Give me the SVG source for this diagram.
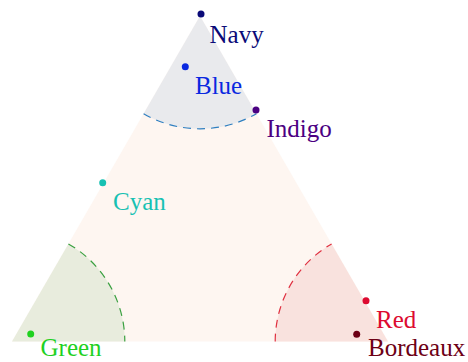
<svg xmlns="http://www.w3.org/2000/svg" width="468" height="362" viewBox="0 0 468 362">
<style>
text{font-family:"Liberation Serif","Times New Roman",serif;font-size:25px}
.arc{fill:none;stroke-width:1.2;stroke-dasharray:8 6}
</style>
<rect width="468" height="362" fill="#ffffff"/>
<g id="regions">
<path d="M200,16 L12,341.6 L388,341.6 Z" fill="#fef6f1"/>
<path d="M200,16 L143.6,113.7 A112.8,112.8 0 0 0 256.4,113.7 Z" fill="#e9eaed"/>
<path d="M12,341.6 L68.4,243.9 A112.8,112.8 0 0 1 124.8,341.6 Z" fill="#e8ecdd"/>
<path d="M388,341.6 L275.2,341.6 A112.8,112.8 0 0 1 331.6,243.9 Z" fill="#f9e2de"/>
</g>
<g id="connectors">
<path class="arc" d="M143.6,113.7 A112.8,112.8 0 0 0 256.4,113.7" stroke="#2f7fc0"/>
<path class="arc" d="M68.4,243.9 A112.8,112.8 0 0 1 124.8,341.6" stroke="#3aa040"/>
<path class="arc" d="M275.2,341.6 A112.8,112.8 0 0 1 331.6,243.9" stroke="#e03040"/>
</g>
<g id="navy"><circle cx="201" cy="14" r="3.5" fill="#0a0a78"/><text x="209.5" y="42.7" fill="#0a0a78">Navy</text></g>
<g id="blue"><circle cx="185.3" cy="66.7" r="3.5" fill="#0a28e0"/><text x="195" y="94.3" fill="#0a28e0">Blue</text></g>
<g id="indigo"><circle cx="256" cy="110" r="3.5" fill="#4b0082"/><text x="266.5" y="137.3" fill="#4b0082">Indigo</text></g>
<g id="cyan"><circle cx="102.7" cy="182.7" r="3.5" fill="#17c1b3"/><text x="113" y="209.5" fill="#17c1b3">Cyan</text></g>
<g id="green"><circle cx="30.7" cy="334" r="3.5" fill="#1fd11f"/><text x="40.5" y="356" fill="#1fd11f">Green</text></g>
<g id="red"><circle cx="366" cy="300.7" r="3.5" fill="#dd0a30"/><text x="376" y="328.3" fill="#dd0a30">Red</text></g>
<g id="bordeaux"><circle cx="356.7" cy="334.3" r="3.5" fill="#6d0015"/><text x="368" y="356" fill="#6d0015">Bordeaux</text></g>
</svg>
